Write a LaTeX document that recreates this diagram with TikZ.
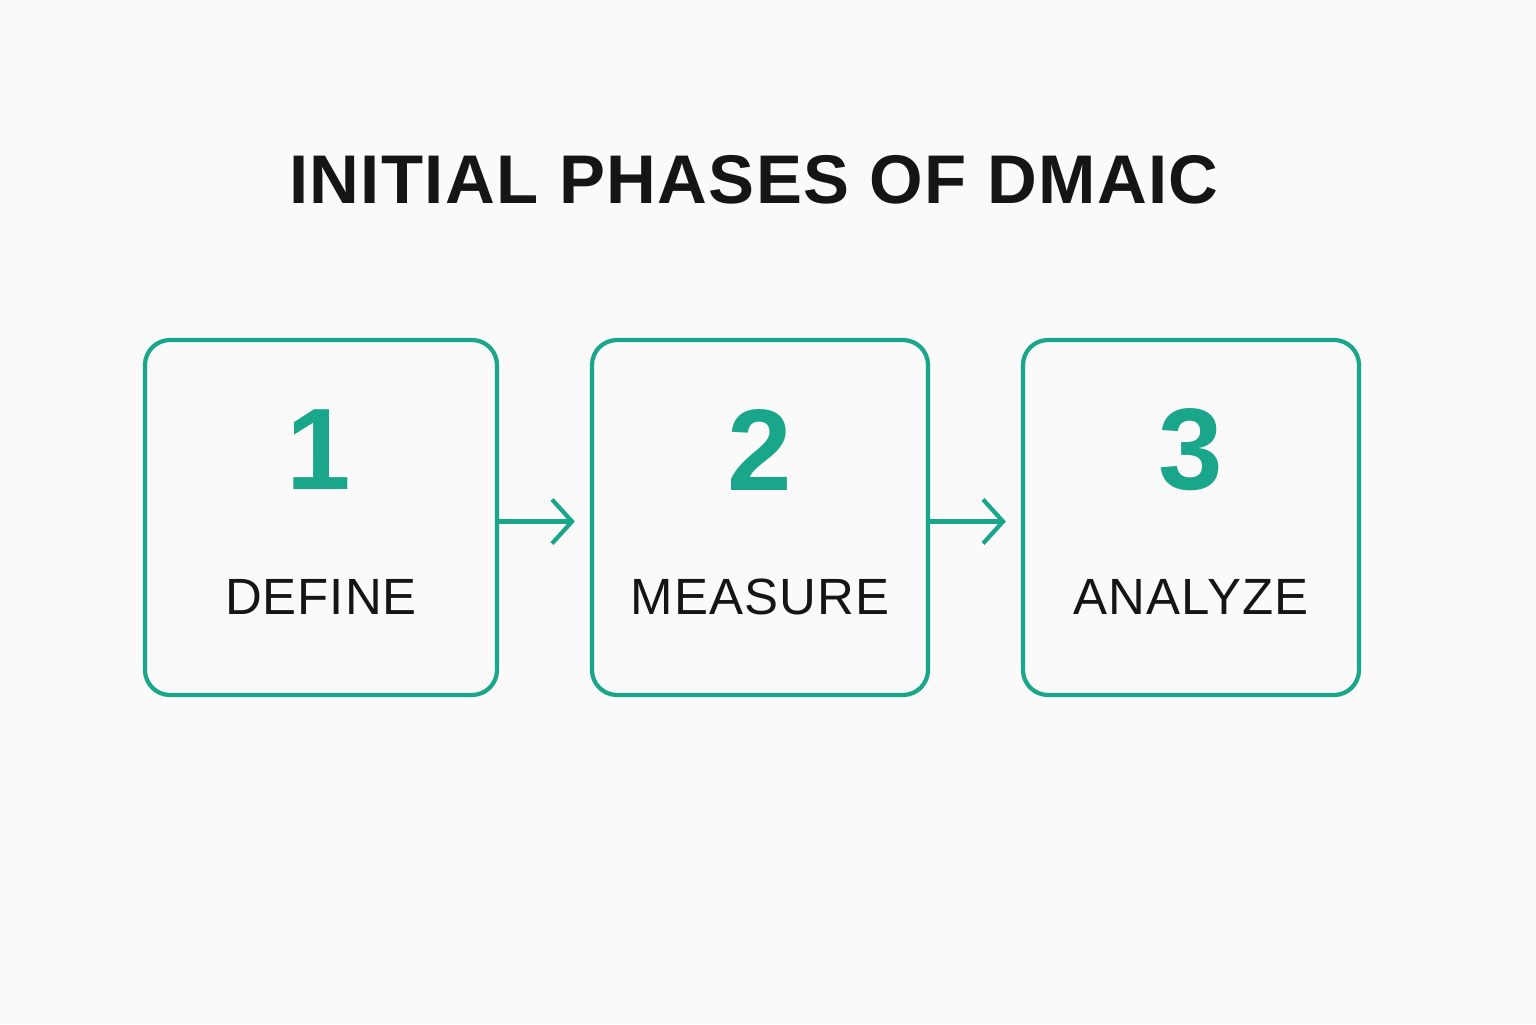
\documentclass[tikz,border=0pt]{standalone}
\usepackage{fontspec}
\setmainfont{Liberation Sans}
\usetikzlibrary{arrows.meta,positioning}
\definecolor{teal6}{HTML}{1AA68A}
\definecolor{ink}{HTML}{151515}
\definecolor{bg}{HTML}{FAFAFA}
\tikzset{
	phase/.style = {rectangle, rounded corners=2.5mm, draw=teal6, line width=1.2pt,
		minimum height=3.55cm},
	num/.style = {text=teal6, font=\fontsize{33}{36}\selectfont\bfseries},
	lbl/.style = {text=ink, font=\fontsize{14.5}{18}\selectfont\addfontfeature{LetterSpace=2}},
	arrow/.style = {draw=teal6, line width=1.2pt, -{Straight Barb[length=2mm,width=4.4mm]}, shorten >=0.15cm}
}
\begin{document}
\begin{tikzpicture}
\fill[bg] (0,0) rectangle (15.36,10.24);
\useasboundingbox (0,0) rectangle (15.36,10.24);
%----------------------------------------------------------------------------
% Title
\node (title) [text=ink, font=\fontsize{19.6}{24}\selectfont\bfseries\addfontfeature{LetterSpace=2}] at (7.54,8.44) {INITIAL PHASES OF DMAIC};
%----------------------------------------------------------------------------
% Phase boxes
\node (define) [phase, minimum width=3.52cm] at (3.21,5.065) {};
\node (measure) [phase, minimum width=3.36cm] at (7.60,5.065) {};
\node (analyze) [phase, minimum width=3.36cm] at (11.91,5.065) {};
\node (n1) [num] at (3.19,5.74) {1};
\node (n2) [num] at (7.60,5.74) {2};
\node (n3) [num] at (11.91,5.74) {3};
\node (l1) [lbl] at (3.21,4.27) {DEFINE};
\node (l2) [lbl] at (7.60,4.27) {MEASURE};
\node (l3) [lbl] at (11.91,4.27) {ANALYZE};
%----------------------------------------------------------------------------
% Draw lines
\draw [arrow] ([yshift=-0.04cm]define.east) -- ([yshift=-0.04cm]measure.west);
\draw [arrow] ([yshift=-0.04cm]measure.east) -- ([yshift=-0.04cm]analyze.west);
\end{tikzpicture}
\end{document}
